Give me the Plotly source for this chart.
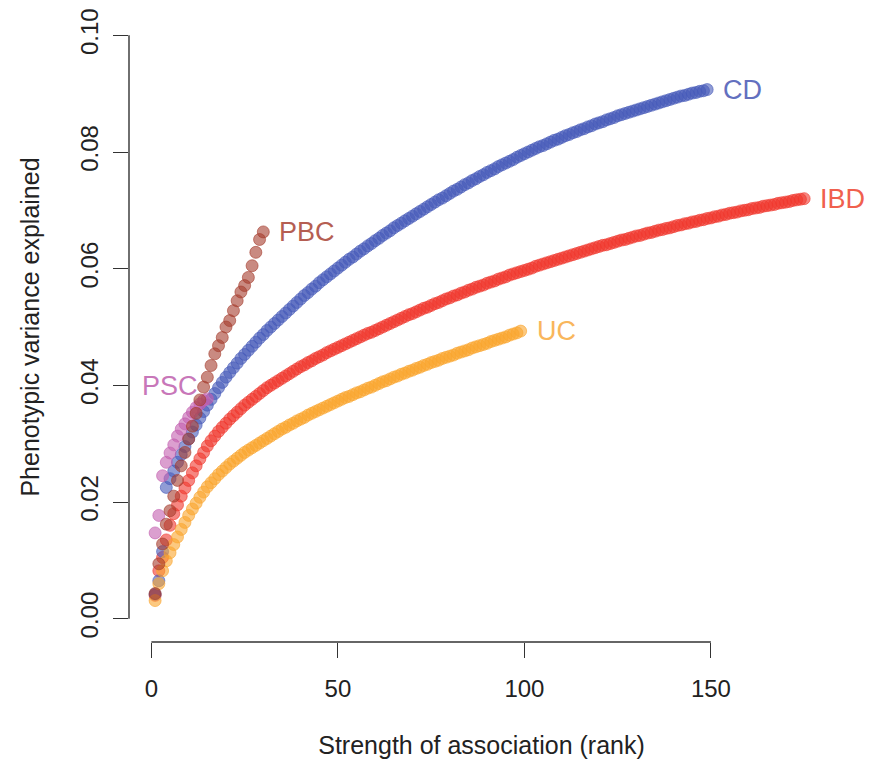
import plotly.graph_objects as go

# ---------------- data ----------------
cd = [0.0042, 0.0065, 0.0115, 0.0225, 0.0240, 0.0253, 0.0268, 0.0281, 0.0295, 0.0308,
      0.0320, 0.0332, 0.0344, 0.0355, 0.0366, 0.0376, 0.0386, 0.0396, 0.0405, 0.0414,
      0.0422, 0.0430, 0.0438, 0.0446, 0.0453, 0.0460, 0.0467, 0.0474, 0.0481, 0.0487,
      0.0494, 0.0500, 0.0506, 0.0512, 0.0518, 0.0524, 0.0530, 0.0536, 0.0542, 0.0548,
      0.0554, 0.0559, 0.0565, 0.0570, 0.0576, 0.0581, 0.0586, 0.0591, 0.0596, 0.0601,
      0.0606, 0.0611, 0.0616, 0.0620, 0.0625, 0.0630, 0.0634, 0.0639, 0.0643, 0.0648,
      0.0652, 0.0657, 0.0661, 0.0665, 0.0670, 0.0674, 0.0678, 0.0682, 0.0686, 0.0690,
      0.0694, 0.0698, 0.0702, 0.0706, 0.0710, 0.0714, 0.0718, 0.0721, 0.0725, 0.0729,
      0.0733, 0.0736, 0.0740, 0.0744, 0.0747, 0.0751, 0.0754, 0.0758, 0.0761, 0.0765,
      0.0768, 0.0771, 0.0775, 0.0778, 0.0781, 0.0784, 0.0787, 0.0791, 0.0794, 0.0797,
      0.0800, 0.0803, 0.0806, 0.0809, 0.0811, 0.0814, 0.0817, 0.0820, 0.0822, 0.0825,
      0.0828, 0.0830, 0.0833, 0.0835, 0.0838, 0.0840, 0.0843, 0.0845, 0.0848, 0.0850,
      0.0852, 0.0855, 0.0857, 0.0859, 0.0862, 0.0864, 0.0866, 0.0868, 0.0870, 0.0872,
      0.0874, 0.0876, 0.0878, 0.0880, 0.0882, 0.0884, 0.0886, 0.0888, 0.0890, 0.0892,
      0.0894, 0.0896, 0.0897, 0.0899, 0.0901, 0.0902, 0.0904, 0.0905, 0.0907]

ibd = [0.0040, 0.0082, 0.0105, 0.0135, 0.0160, 0.0180, 0.0195, 0.0210, 0.0224, 0.0237,
       0.0250, 0.0262, 0.0274, 0.0285, 0.0296, 0.0305, 0.0313, 0.0321, 0.0328, 0.0335,
       0.0342, 0.0348, 0.0354, 0.0360, 0.0366, 0.0371, 0.0376, 0.0381, 0.0386, 0.0391,
       0.0396, 0.0400, 0.0404, 0.0408, 0.0412, 0.0416, 0.0420, 0.0424, 0.0428, 0.0432,
       0.0435, 0.0439, 0.0442, 0.0446, 0.0449, 0.0452, 0.0456, 0.0459, 0.0462, 0.0465,
       0.0468, 0.0471, 0.0474, 0.0477, 0.0480, 0.0483, 0.0486, 0.0489, 0.0491, 0.0494,
       0.0497, 0.0500, 0.0503, 0.0506, 0.0509, 0.0512, 0.0515, 0.0518, 0.0521, 0.0523,
       0.0526, 0.0529, 0.0532, 0.0534, 0.0537, 0.0540, 0.0542, 0.0545, 0.0548, 0.0550,
       0.0553, 0.0555, 0.0558, 0.0560, 0.0563, 0.0565, 0.0568, 0.0570, 0.0572, 0.0575,
       0.0577, 0.0579, 0.0582, 0.0584, 0.0586, 0.0589, 0.0591, 0.0593, 0.0595, 0.0597,
       0.0599, 0.0601, 0.0604, 0.0606, 0.0608, 0.0610, 0.0612, 0.0614, 0.0616, 0.0618,
       0.0620, 0.0622, 0.0624, 0.0626, 0.0628, 0.0630, 0.0632, 0.0634, 0.0636, 0.0638,
       0.0640, 0.0641, 0.0643, 0.0645, 0.0647, 0.0649, 0.0650, 0.0652, 0.0654, 0.0656,
       0.0657, 0.0659, 0.0661, 0.0662, 0.0664, 0.0666, 0.0667, 0.0669, 0.0670, 0.0672,
       0.0674, 0.0675, 0.0677, 0.0678, 0.0680, 0.0681, 0.0683, 0.0684, 0.0686, 0.0687,
       0.0689, 0.0690, 0.0692, 0.0693, 0.0695, 0.0696, 0.0697, 0.0699, 0.0700, 0.0701,
       0.0703, 0.0704, 0.0705, 0.0707, 0.0708, 0.0709, 0.0710, 0.0712, 0.0713, 0.0714,
       0.0715, 0.0717, 0.0718, 0.0719, 0.0720]

uc = [0.0031, 0.0060, 0.0082, 0.0099, 0.0113, 0.0127, 0.0140, 0.0153, 0.0165, 0.0177,
      0.0188, 0.0198, 0.0208, 0.0217, 0.0226, 0.0233, 0.0240, 0.0247, 0.0253, 0.0259,
      0.0265, 0.0270, 0.0275, 0.0280, 0.0285, 0.0289, 0.0293, 0.0297, 0.0301, 0.0305,
      0.0309, 0.0313, 0.0317, 0.0321, 0.0325, 0.0328, 0.0332, 0.0335, 0.0339, 0.0342,
      0.0345, 0.0349, 0.0352, 0.0355, 0.0358, 0.0361, 0.0364, 0.0367, 0.0370, 0.0373,
      0.0376, 0.0379, 0.0381, 0.0384, 0.0387, 0.0389, 0.0392, 0.0395, 0.0397, 0.0400,
      0.0403, 0.0406, 0.0408, 0.0411, 0.0414, 0.0416, 0.0419, 0.0421, 0.0424, 0.0426,
      0.0429, 0.0431, 0.0434, 0.0436, 0.0439, 0.0441, 0.0443, 0.0446, 0.0448, 0.0450,
      0.0452, 0.0455, 0.0457, 0.0459, 0.0461, 0.0464, 0.0466, 0.0468, 0.0470, 0.0472,
      0.0475, 0.0477, 0.0479, 0.0481, 0.0483, 0.0486, 0.0488, 0.0490, 0.0493]

pbc = [0.0043, 0.0094, 0.0128, 0.0162, 0.0185, 0.0210, 0.0237, 0.0262, 0.0285, 0.0308,
       0.0330, 0.0352, 0.0375, 0.0397, 0.0414, 0.0434, 0.0454, 0.0468, 0.0482, 0.0500,
       0.0511, 0.0528, 0.0545, 0.0560, 0.0571, 0.0585, 0.0605, 0.0628, 0.0650, 0.0663]

psc = [0.0147, 0.0177, 0.0245, 0.0268, 0.0284, 0.0298, 0.0313, 0.0325, 0.0334, 0.0345,
       0.0354, 0.0362, 0.0368, 0.0374, 0.0377]

series_names = ["IBD", "CD", "UC", "PSC", "PBC"]
series_values = [ibd, cd, uc, psc, pbc]
series_colors = ["rgba(240,55,45,0.6)", "rgba(70,90,185,0.6)", "rgba(250,165,45,0.6)",
                 "rgba(195,95,175,0.6)", "rgba(165,60,45,0.6)"]
label_colors = {"IBD": "#F0604E", "CD": "#6370BF", "UC": "#F9B65C",
                "PSC": "#C877B9", "PBC": "#B55E52"}

x_ticks = [0, 50, 100, 150]
y_ticks = [0.00, 0.02, 0.04, 0.06, 0.08, 0.10]
y_tick_text = ["0.00", "0.02", "0.04", "0.06", "0.08", "0.10"]

FONT = "Liberation Sans, Arial, Helvetica, sans-serif"

fig = go.Figure()
for name, vals, col in zip(series_names, series_values, series_colors):
    xs = list(range(1, len(vals) + 1))
    fig.add_trace(go.Scatter(
        x=xs, y=vals, mode="markers", name=name,
        marker=dict(size=12, color=col, line=dict(color=col, width=1)),
        showlegend=False, hoverinfo="x+y+name"))

# labels at the end of each curve
for name, vals in zip(series_names, series_values):
    n = len(vals)
    if name == "PSC":
        fig.add_annotation(x=n, y=vals[-1], text=name, showarrow=False,
                           xanchor="right", yanchor="middle", xshift=-7, yshift=13,
                           font=dict(family=FONT, size=27, color=label_colors[name]))
    else:
        fig.add_annotation(x=n, y=vals[-1], text=name, showarrow=False,
                           xanchor="left", yanchor="middle", xshift=14,
                           font=dict(family=FONT, size=27, color=label_colors[name]))

# R-style axis lines spanning only the tick range
fig.add_shape(type="line", xref="x", yref="paper", x0=min(x_ticks), x1=max(x_ticks),
              y0=0, y1=0, line=dict(color="#333333", width=1.4))
fig.add_shape(type="line", xref="paper", yref="y", x0=0, x1=0,
              y0=min(y_ticks), y1=max(y_ticks), line=dict(color="#333333", width=1.4))

fig.update_layout(
    width=869, height=762,
    margin=dict(l=129, r=35, t=12, b=120, autoexpand=False),
    plot_bgcolor="white", paper_bgcolor="white",
    font=dict(family=FONT, size=24, color="#222222"),
    xaxis=dict(range=[-6, 183], tickvals=x_ticks, ticks="outside", ticklen=15,
               tickwidth=1.4, tickcolor="#333333", showgrid=False, zeroline=False,
               showline=False, tickfont=dict(size=24), automargin=False,
               ticklabelstandoff=10,
               title=dict(text="Strength of association (rank)", font=dict(size=25), standoff=35)),
    yaxis=dict(range=[-0.004, 0.104], tickvals=y_ticks, ticktext=y_tick_text,
               ticks="outside", ticklen=15, tickwidth=1.4, tickcolor="#333333",
               showgrid=False, zeroline=False, showline=False, tickangle=-90,
               tickfont=dict(size=24), automargin=False, ticklabelstandoff=5,
               title=dict(text="Phenotypic variance explained", font=dict(size=25), standoff=29)),
)

fig.write_html("out.html", config={"displayModeBar": False},
               post_script="document.body.style.margin='0';document.body.style.overflow='hidden';")
